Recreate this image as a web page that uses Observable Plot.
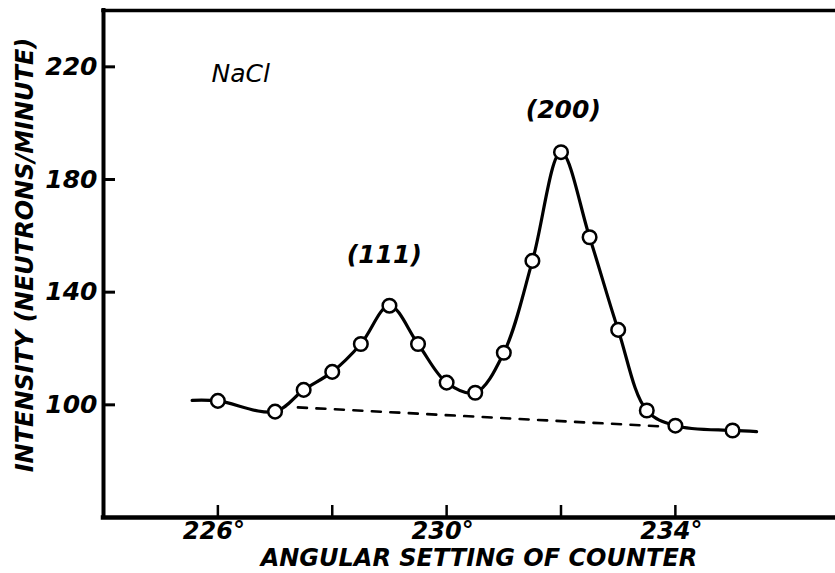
<!DOCTYPE html>
<html>
<head>
<meta charset="utf-8">
<script src="https://cdn.jsdelivr.net/npm/d3@7"></script>
<script src="https://cdn.jsdelivr.net/npm/@observablehq/plot@0.6"></script>
<style>
  html, body { margin: 0; padding: 0; background: #fff; }
  g[aria-label="x-title"] text { word-spacing: 4px; }
  g[aria-label="y-title"] text { letter-spacing: 0.5px; }
</style>
</head>
<body>
<div id="chart"></div>
<script>
// Measured points (angular setting in degrees, intensity in neutrons/minute)
const angle = [226, 227, 227.5, 228, 228.5, 229, 229.5, 230, 230.5, 231, 231.5, 232, 232.5, 233, 233.5, 234, 235];
const intensity = [101.4, 97.6, 105.3, 111.7, 121.6, 135.2, 121.6, 107.9, 104.3, 118.5, 151.1, 189.7, 159.5, 126.6, 98.0, 92.6, 90.9];

// Hand-drawn curve extends a little beyond the first and last points
const curveStart = [225.55, 101.6];
const curveEnd = [235.42, 90.5];

// Dashed background line
const baselineAngle = [227.4, 233.8];
const baselineIntensity = [99.1, 92.3];

// Axes
const xDomain = [224, 236.8];
const yDomain = [60, 240];
const xTicks = [226, 228, 230, 232, 234];
const xTickLabels = [226, 230, 234];
const yTicks = [100, 140, 180, 220];
const xTitle = "ANGULAR SETTING OF COUNTER";
const yTitle = "INTENSITY (NEUTRONS/MINUTE)";

// Annotations
const noteText = ["NaCl", "(200)", "(111)"];
const noteAngle = [226.40, 232.04, 228.91];
const noteIntensity = [217.4, 204.6, 153.2];
const noteWeight = ["normal", "bold", "bold"];

const points = angle.map((x, i) => ({x, y: intensity[i]}));
const curve = [
  {x: curveStart[0], y: curveStart[1]},
  ...points,
  {x: curveEnd[0], y: curveEnd[1]}
];
const baseline = baselineAngle.map((x, i) => ({x, y: baselineIntensity[i]}));
const notes = noteText.map((t, i) => ({t, x: noteAngle[i], y: noteIntensity[i], w: noteWeight[i]}));

const font = "DejaVu Sans";

const chart = Plot.plot({
  width: 835,
  height: 573,
  marginLeft: 103,
  marginRight: 0,
  marginTop: 10,
  marginBottom: 56,
  x: {domain: xDomain, label: null},
  y: {domain: yDomain, label: null},
  style: {fontFamily: font, background: "#fff", color: "#000"},
  marks: [
    Plot.line(baseline, {x: "x", y: "y", stroke: "#000", strokeWidth: 2.6, strokeDasharray: "9,9.5"}),
    Plot.line(curve, {x: "x", y: "y", curve: "catmull-rom", stroke: "#000", strokeWidth: 3.2}),
    Plot.dot(points, {x: "x", y: "y", r: 6.8, fill: "#fff", stroke: "#000", strokeWidth: 2.5}),
    Plot.ruleX([xDomain[0]], {stroke: "#000", strokeWidth: 4, strokeLinecap: "square"}),
    Plot.ruleY([yDomain[1]], {stroke: "#000", strokeWidth: 3.5, strokeLinecap: "square"}),
    Plot.ruleY([yDomain[0]], {stroke: "#000", strokeWidth: 4.5, strokeLinecap: "square"}),
    Plot.axisX({ticks: xTicks, tickSize: -12, strokeWidth: 2.5, tickFormat: () => "", label: null}),
    Plot.axisX({ticks: xTickLabels, tickSize: 0, tickPadding: 4, tickFormat: d => d + "°", label: null,
      fontSize: 24, fontWeight: "bold", fontStyle: "italic", fontFamily: font, dx: -4, fill: "#000"}),
    Plot.axisY({ticks: yTicks, tickSize: -12, strokeWidth: 3, tickFormat: () => "", label: null}),
    Plot.axisY({ticks: yTicks, tickSize: 0, tickPadding: 6, label: null,
      fontSize: 25, fontWeight: "bold", fontStyle: "italic", fontFamily: font, fill: "#000"}),
    Plot.text([yTitle], {frameAnchor: "left", dx: -78, dy: -9, rotate: -90, text: d => d,
      textAnchor: "middle", lineAnchor: "middle",
      fontSize: 24, fontWeight: "bold", fontStyle: "italic", fontFamily: font, fill: "#000", ariaLabel: "y-title"}),
    Plot.text([xTitle], {frameAnchor: "bottom", dx: 9.5, dy: 41, text: d => d,
      textAnchor: "middle", lineAnchor: "middle",
      fontSize: 24, fontWeight: "bold", fontStyle: "italic", fontFamily: font, fill: "#000", ariaLabel: "x-title"}),
    Plot.text(notes.filter(d => d.w === "normal"), {x: "x", y: "y", text: "t",
      fontSize: 25, fontStyle: "italic", fontFamily: font, fill: "#000"}),
    Plot.text(notes.filter(d => d.w === "bold"), {x: "x", y: "y", text: "t",
      fontSize: 25, fontWeight: "bold", fontStyle: "italic", fontFamily: font, fill: "#000"})
  ]
});
document.getElementById("chart").appendChild(chart);
</script>
</body>
</html>
